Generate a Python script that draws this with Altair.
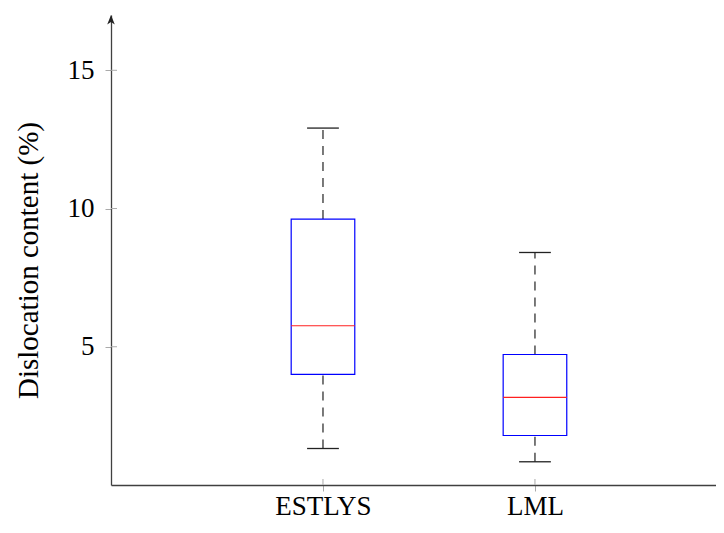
import altair as alt
import pandas as pd

# Data
categories = ["ESTLYS", "LML"]
positions = [1, 2]
lower_whisker = [1.32, 0.84]
q1 = [4.00, 1.79]
median = [5.76, 3.17]
q3 = [9.62, 4.72]
upper_whisker = [12.91, 8.41]

y_ticks = [5, 10, 15]
y_title = "Dislocation content (%)"

df = pd.DataFrame({
    "cat": categories,
    "pos": positions,
    "lo": lower_whisker,
    "q1": q1,
    "med": median,
    "q3": q3,
    "hi": upper_whisker,
})
yticks_df = pd.DataFrame({"v": y_ticks})
xticks_df = pd.DataFrame({"pos": positions})
arrow_df = pd.DataFrame({"top": [17]})

FONT = "Liberation Serif"
W, H = 605, 470
half_box = 0.15
half_cap = 0.075

label_expr = " : ".join(
    [f"datum.value == {p} ? '{c}'" for p, c in zip(positions, categories)]
) + " : ''"

xscale = alt.Scale(domain=[0, 2.854], nice=False, zero=False)
yscale = alt.Scale(domain=[0, 17], nice=False, zero=True)

xaxis = alt.Axis(
    values=positions, labelExpr=label_expr, title=None,
    labelFont=FONT, labelFontSize=27, labelColor="black",
    tickSize=6, tickColor="#aaaaaa", tickWidth=1,
    labelPadding=2, domainColor="#404040", domainWidth=1.3,
    grid=False,
)
yaxis = alt.Axis(
    values=y_ticks, title=y_title,
    labelFont=FONT, labelFontSize=27, labelColor="black",
    tickSize=6, tickColor="#aaaaaa", tickWidth=1, labelPadding=11,
    domainColor="#404040", domainWidth=1.3, grid=False,
    titleFont=FONT, titleFontSize=29, titleFontWeight="normal",
    titleColor="black", titleX=-74, titleY=245, titleAngle=270,
    titleBaseline="alphabetic", titleAlign="center",
)

base = alt.Chart(df)

box = base.transform_calculate(
    x_lo=f"datum.pos - {half_box}", x_hi=f"datum.pos + {half_box}"
).mark_rect(fill="white", fillOpacity=0, stroke="#0000ff", strokeWidth=1.2).encode(
    x=alt.X("x_lo:Q", scale=xscale, axis=xaxis),
    x2="x_hi:Q",
    y=alt.Y("q1:Q", scale=yscale, axis=yaxis),
    y2="q3:Q",
)

med = base.transform_calculate(
    x_lo=f"datum.pos - {half_box}", x_hi=f"datum.pos + {half_box}"
).mark_rule(color="#ff2020", strokeWidth=1.2).encode(
    x=alt.X("x_lo:Q", scale=xscale, axis=xaxis), x2="x_hi:Q",
    y=alt.Y("med:Q", scale=yscale, axis=yaxis),
)

whisk_up = base.mark_rule(color="#333333", strokeWidth=1.3, strokeDash=[9, 7]).encode(
    x=alt.X("pos:Q", scale=xscale, axis=xaxis),
    y=alt.Y("q3:Q", scale=yscale, axis=yaxis), y2="hi:Q",
)
whisk_dn = base.mark_rule(color="#333333", strokeWidth=1.3, strokeDash=[9, 7]).encode(
    x=alt.X("pos:Q", scale=xscale, axis=xaxis),
    y=alt.Y("lo:Q", scale=yscale, axis=yaxis), y2="q1:Q",
)

caps_src = base.transform_calculate(
    c_lo=f"datum.pos - {half_cap}", c_hi=f"datum.pos + {half_cap}"
)
cap_up = caps_src.mark_rule(color="#222222", strokeWidth=1.3).encode(
    x=alt.X("c_lo:Q", scale=xscale, axis=xaxis), x2="c_hi:Q",
    y=alt.Y("hi:Q", scale=yscale, axis=yaxis),
)
cap_dn = caps_src.mark_rule(color="#222222", strokeWidth=1.3).encode(
    x=alt.X("c_lo:Q", scale=xscale, axis=xaxis), x2="c_hi:Q",
    y=alt.Y("lo:Q", scale=yscale, axis=yaxis),
)

# inner halves of tick marks (pgfplots ticks cross the axis)
ytick_in = alt.Chart(yticks_df).mark_rule(color="#aaaaaa", strokeWidth=1).encode(
    x=alt.value(0), x2=alt.value(6),
    y=alt.Y("v:Q", scale=yscale, axis=yaxis),
)
xtick_in = alt.Chart(xticks_df).mark_rule(color="#aaaaaa", strokeWidth=1).encode(
    x=alt.X("pos:Q", scale=xscale, axis=xaxis),
    y=alt.value(H), y2=alt.value(H - 6),
)

arrow = alt.Chart(arrow_df).mark_point(
    shape="M0,0 L0.6,1.5 L0,1.1 L-0.6,1.5 Z", size=160,
    filled=True, color="#222222", opacity=1,
).encode(
    x=alt.value(0),
    y=alt.Y("top:Q", scale=yscale, axis=yaxis),
)

chart = alt.layer(
    ytick_in, xtick_in, whisk_up, whisk_dn, cap_up, cap_dn, box, med, arrow
).properties(
    width=W, height=H,
    autosize=alt.AutoSizeParams(type="none"),
    padding={"left": 103, "top": 7, "right": 0, "bottom": 36},
).configure_view(stroke=None)

chart.save("out.html", embed_options={"renderer": "svg", "actions": False})
